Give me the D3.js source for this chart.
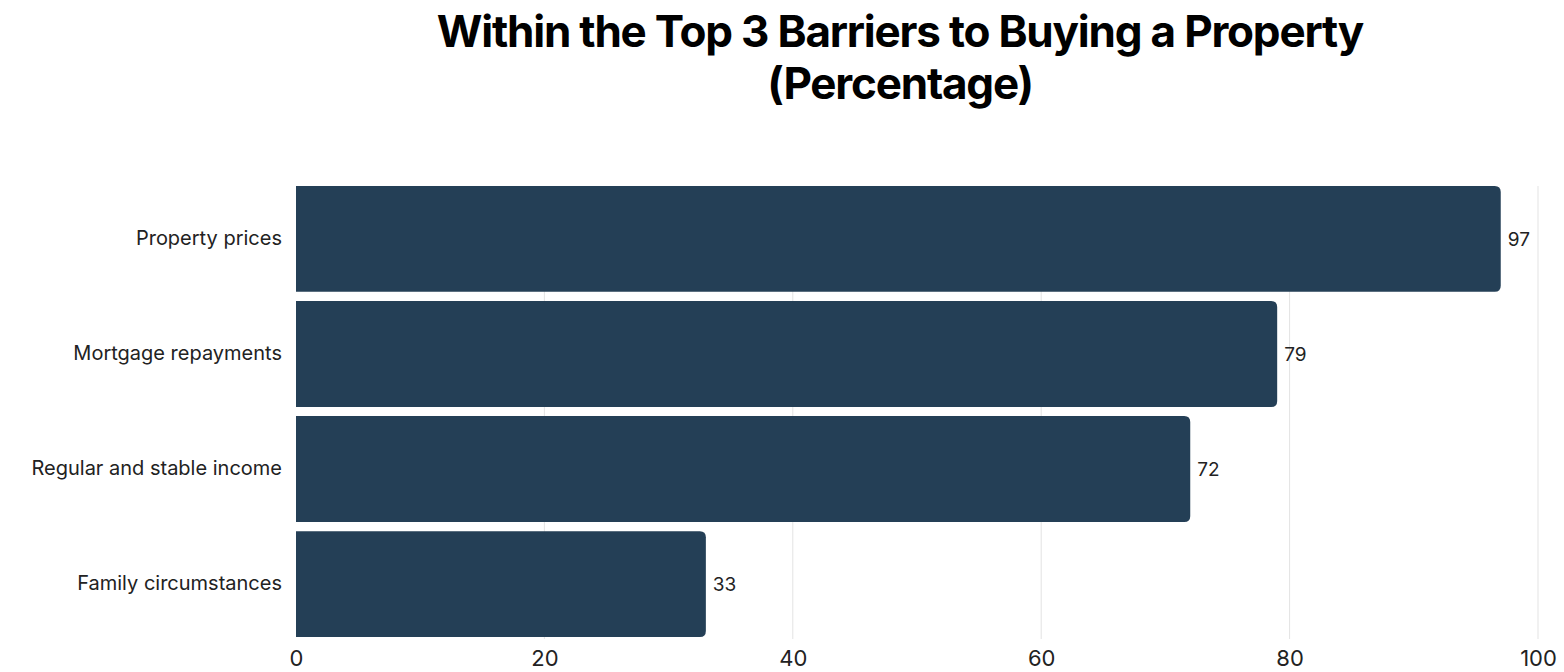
<!DOCTYPE html>
<html>
<head>
<meta charset="utf-8">
<script src="https://cdn.jsdelivr.net/npm/d3@7"></script>
<style>
  html, body { margin: 0; padding: 0; background: #fff; }
  svg { display: block; }
</style>
</head>
<body>
<svg id="chart" width="1564" height="672"></svg>
<script>
// Share of respondents naming each item among their top 3 barriers
const categories = ["Property prices", "Mortgage repayments", "Regular and stable income", "Family circumstances"];
const values = [97, 79, 72, 33];
const xTicks = [0, 20, 40, 60, 80, 100];
const titleLines = ["Within the Top 3 Barriers to Buying a Property", "(Percentage)"];

const svg = d3.select("#chart");
const W = 1564, H = 672;
const margin = { left: 296, right: 26, top: 186, bottom: 35 };

const x = d3.scaleLinear().domain([0, 100]).range([margin.left, W - margin.right]);
const y = d3.scaleBand().domain(categories).range([margin.top, H - margin.bottom]).paddingInner(0.08).paddingOuter(0);

const fontUI = "Inter, 'Noto Sans', sans-serif";

// Title
const title = svg.append("g").attr("font-family", fontUI).attr("font-weight", 700)
  .attr("fill", "#000").attr("text-anchor", "middle");
titleLines.forEach((t, i) => {
  title.append("text")
    .attr("x", 900)
    .attr("y", 47 + i * 52)
    .attr("font-size", 44)
    .attr("letter-spacing", "-1.2px")
    .text(t);
});

// Vertical gridlines
svg.append("g").selectAll("line").data(xTicks.filter(d => d > 0)).join("line")
  .attr("x1", d => x(d)).attr("x2", d => x(d))
  .attr("y1", margin.top).attr("y2", H - margin.bottom + 2)
  .attr("stroke", "#e3e3e3").attr("stroke-width", 1);

// Bars: square on the left, rounded on the right
const r = 6;
function barPath(x0, x1, y0, h) {
  const rr = Math.min(r, (x1 - x0) / 2, h / 2);
  return `M${x0},${y0}H${x1 - rr}Q${x1},${y0} ${x1},${y0 + rr}V${y0 + h - rr}Q${x1},${y0 + h} ${x1 - rr},${y0 + h}H${x0}Z`;
}
svg.append("g").selectAll("path").data(categories).join("path")
  .attr("d", (c, i) => barPath(x(0), x(values[i]), y(c), y.bandwidth()))
  .attr("fill", "#243f56");

// Value labels
svg.append("g").selectAll("text").data(categories).join("text")
  .attr("x", (c, i) => x(values[i]) + 7)
  .attr("y", c => y(c) + y.bandwidth() / 2)
  .attr("dy", "0.35em")
  .attr("font-family", fontUI).attr("font-size", 19).attr("fill", "#222")
  .text((c, i) => values[i]);

// Category axis (labels only)
const yAxis = svg.append("g").attr("transform", `translate(${x(0)},0)`)
  .call(d3.axisLeft(y).tickSize(0).tickPadding(14));
yAxis.select(".domain").remove();
yAxis.selectAll("text").attr("font-family", fontUI).attr("font-size", 20).attr("fill", "#222");

// Value axis (labels only)
const xAxis = svg.append("g").attr("transform", `translate(0,${H - margin.bottom})`)
  .call(d3.axisBottom(x).tickValues(xTicks).tickSize(0).tickPadding(13));
xAxis.select(".domain").remove();
xAxis.selectAll("text").attr("font-family", fontUI).attr("font-size", 22).attr("fill", "#222");
</script>
</body>
</html>
